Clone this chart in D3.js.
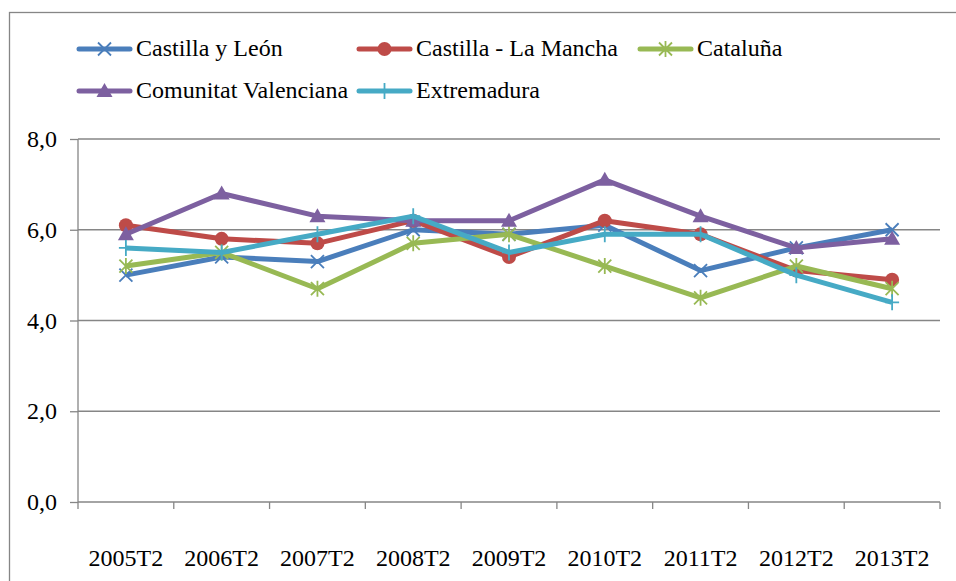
<html>
<head>
    <meta charset="utf-8">
    <script src="https://d3js.org/d3.v7.min.js"></script>
    <style>
        body { margin: 0; background: #fff; }
        .grid line { stroke: #868686; stroke-width: 1.3; }
        .axis path, .axis line { stroke: #868686; stroke-width: 1.3; }
        .axis text { fill: #000; }
        .legend text { fill: #000; }
        .line { fill: none; stroke-width: 5; stroke-linejoin: round; }
    </style>
</head>
<body>
<div id="chart"></div>
<script>
    var categories = ["2005T2", "2006T2", "2007T2", "2008T2", "2009T2", "2010T2", "2011T2", "2012T2", "2013T2"];
    var seriesNames = ["Castilla y León", "Castilla - La Mancha", "Cataluña", "Comunitat Valenciana", "Extremadura"];
    var castillaLeon = [5.0, 5.4, 5.3, 6.0, 5.9, 6.1, 5.1, 5.6, 6.0];
    var castillaMancha = [6.1, 5.8, 5.7, 6.2, 5.4, 6.2, 5.9, 5.1, 4.9];
    var cataluna = [5.2, 5.5, 4.7, 5.7, 5.9, 5.2, 4.5, 5.2, 4.7];
    var valenciana = [5.9, 6.8, 6.3, 6.2, 6.2, 7.1, 6.3, 5.6, 5.8];
    var extremadura = [5.6, 5.5, 5.9, 6.3, 5.5, 5.9, 5.9, 5.0, 4.4];
    var yTicks = [0, 2, 4, 6, 8];

    var colors = ["#4A7EBB", "#BE4B48", "#98B954", "#7D60A0", "#46AAC5"];
    var markers = ["x", "circle", "star", "triangle", "plus"];
    var values = [castillaLeon, castillaMancha, cataluna, valenciana, extremadura];
    var data = seriesNames.map(function(n, i) {
        return { name: n, color: colors[i], marker: markers[i], values: values[i] };
    });

    var width = 956, height = 581;
    var plot = { left: 78, right: 940, top: 139, bottom: 502 };
    var serif = '"Liberation Serif", "Times New Roman", serif';
    var fontSize = 24;

    var svg = d3.select("#chart").append("svg")
        .attr("width", width)
        .attr("height", height);

    // outer frame
    svg.append("rect")
        .attr("x", 9.5).attr("y", 12.5)
        .attr("width", 960).attr("height", 600)
        .attr("fill", "none").attr("stroke", "#868686").attr("stroke-width", 1.3);

    var x = d3.scaleBand().domain(categories).range([plot.left, plot.right]);
    var y = d3.scaleLinear().domain([0, 8]).range([plot.bottom, plot.top]);

    // gridlines
    svg.append("g").attr("class", "grid")
        .selectAll("line").data(yTicks.filter(d => d > 0)).enter()
        .append("line")
        .attr("x1", plot.left).attr("x2", plot.right)
        .attr("y1", d => y(d)).attr("y2", d => y(d));

    // y axis
    var yAxis = d3.axisLeft(y).tickValues(yTicks).tickSize(8).tickPadding(13)
        .tickFormat(d => d3.format(".1f")(d).replace(".", ","));
    svg.append("g").attr("class", "axis")
        .attr("transform", "translate(" + plot.left + ",0)")
        .call(yAxis)
        .attr("font-family", serif).attr("font-size", fontSize)
        .call(g => g.select(".domain").attr("d", "M0," + plot.top + "V" + plot.bottom));

    // x axis
    var xAxis = d3.axisBottom(x).tickSize(0).tickPadding(47);
    var gx = svg.append("g").attr("class", "axis")
        .attr("transform", "translate(0," + plot.bottom + ")")
        .call(xAxis)
        .attr("font-family", serif).attr("font-size", fontSize);
    gx.select(".domain").attr("d", "M" + plot.left + ",0H" + plot.right);
    gx.selectAll(".boundary")
        .data(categories.map(c => x(c)).concat([plot.right])).enter()
        .append("line")
        .attr("x1", d => d).attr("x2", d => d)
        .attr("y1", 0).attr("y2", 7)
        .attr("stroke", "#868686").attr("stroke-width", 1.3);

    function drawMarker(g, type, color, cx, cy) {
        if (type === "circle") {
            g.append("circle").attr("cx", cx).attr("cy", cy).attr("r", 7).attr("fill", color);
        } else if (type === "triangle") {
            var r = 8;
            g.append("path")
                .attr("d", "M" + cx + "," + (cy - r) + "L" + (cx + r) + "," + (cy + r * 0.75) + "L" + (cx - r) + "," + (cy + r * 0.75) + "Z")
                .attr("fill", color);
        } else {
            var r2 = 6.5, p = "";
            if (type === "x" || type === "star") {
                p += "M" + (cx - r2) + "," + (cy - r2) + "L" + (cx + r2) + "," + (cy + r2);
                p += "M" + (cx - r2) + "," + (cy + r2) + "L" + (cx + r2) + "," + (cy - r2);
            }
            if (type === "plus" || type === "star") {
                p += "M" + cx + "," + (cy - 8) + "L" + cx + "," + (cy + 8);
                if (type === "plus") p += "M" + (cx - 7) + "," + cy + "L" + (cx + 7) + "," + cy;
            }
            g.append("path").attr("d", p).attr("stroke", color).attr("stroke-width", 1.8).attr("fill", "none");
        }
    }

    var line = d3.line()
        .x((d, i) => x(categories[i]) + x.bandwidth() / 2)
        .y(d => y(d));

    var lines = svg.append("g");
    data.forEach(function(s) {
        var g = lines.append("g");
        g.append("path").attr("class", "line")
            .attr("d", line(s.values))
            .attr("stroke", s.color);
        s.values.forEach(function(v, i) {
            drawMarker(g, s.marker, s.color, x(categories[i]) + x.bandwidth() / 2, y(v));
        });
    });

    // legend
    var legendPos = [[77, 49], [357, 49], [638, 49], [77, 91], [357, 91]];
    var legend = svg.append("g").attr("class", "legend")
        .attr("font-family", serif).attr("font-size", fontSize);
    data.forEach(function(s, i) {
        var lx = legendPos[i][0], ly = legendPos[i][1];
        var g = legend.append("g");
        g.append("line")
            .attr("x1", lx + 2).attr("x2", lx + 53)
            .attr("y1", ly).attr("y2", ly)
            .attr("stroke", s.color).attr("stroke-width", 5).attr("stroke-linecap", "round");
        drawMarker(g, s.marker, s.color, lx + 27.5, ly);
        g.append("text")
            .attr("x", lx + 59).attr("y", ly + 7)
            .text(s.name);
    });
</script>
</body>
</html>
